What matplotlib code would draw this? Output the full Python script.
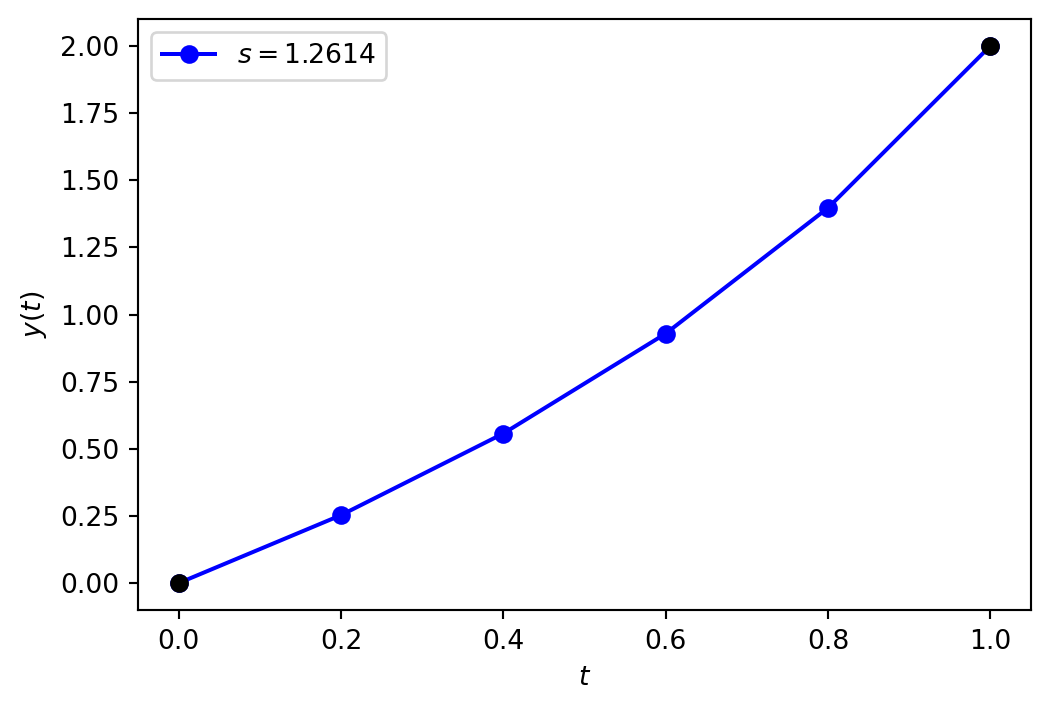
import matplotlib
matplotlib.use("Agg")
import matplotlib.pyplot as plt

t = [0.0, 0.2, 0.4, 0.6, 0.8, 1.0]
y = [0.0, 0.253, 0.557, 0.929, 1.397, 2.0]
bc_t = [0.0, 1.0]
bc_y = [0.0, 2.0]
s_value = 1.2614

DPI = 192
fig = plt.figure(figsize=(1050/DPI, 711/DPI), dpi=DPI)
ax = fig.add_axes([138/1050, 1 - 610/711, (1031-138)/1050, (610-19)/711])
ax.plot(t, y, 'o-', color='blue', label=r'$s = %.4f$' % s_value)
ax.plot(bc_t, bc_y, 'o', color='black')
ax.set_xlabel(r'$t$')
ax.set_ylabel(r'$y(t)$')
ax.legend(loc='upper left')
fig.savefig('out.png', dpi=DPI)
